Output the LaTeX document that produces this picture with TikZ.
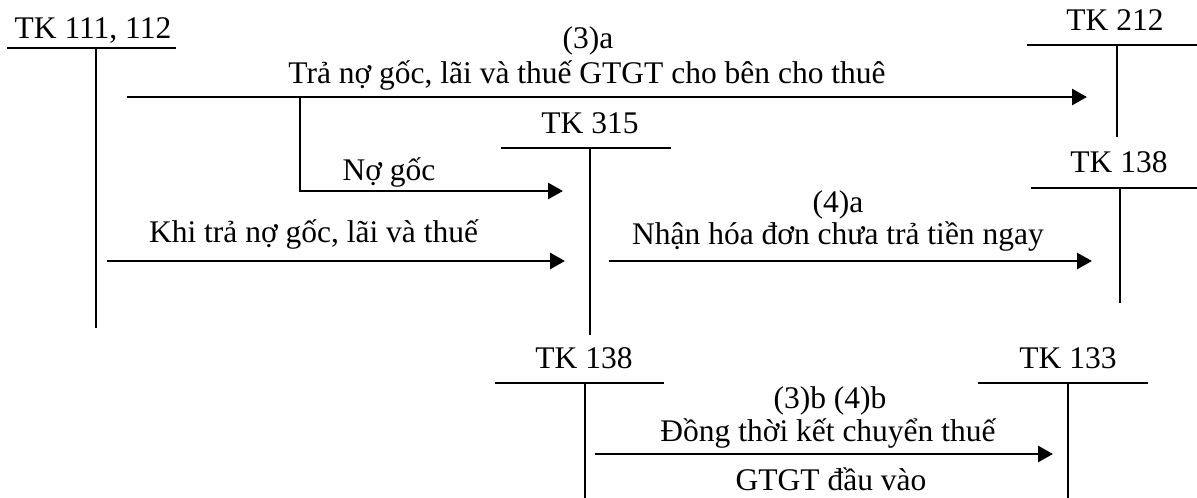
\documentclass[tikz,border=0pt]{standalone}
\usepackage{fontspec}
\setmainfont{Liberation Serif}
\usetikzlibrary{arrows.meta}
\begin{document}
\begin{tikzpicture}[x=1pt,y=-1pt,
  tline/.style={line width=1.7pt},
  flowline/.style={line width=2.8pt},
  flow/.style={flowline, -{Triangle[length=15pt,width=16pt]}},
  txt/.style={font=\fontsize{31.5}{36}\selectfont, inner sep=0pt, anchor=base}]
\useasboundingbox (0,0) rectangle (1197,498);

% ---------- accounts ----------
% TK 111, 112
\node[txt] (t111) at (93,38) {TK 111, 112};
\coordinate (u111w) at (7,48);   \coordinate (u111e) at (176,48);
\coordinate (v111t) at (96,48);  \coordinate (v111b) at (96,328);
\draw[tline] (u111w) -- (u111e);
\draw[tline] (v111t) -- (v111b);

% TK 212
\node[txt] (t212) at (1115,30) {TK 212};
\coordinate (u212w) at (1027,45); \coordinate (u212e) at (1197,45);
\coordinate (v212t) at (1117,45); \coordinate (v212b) at (1117,137);
\draw[tline] (u212w) -- (u212e);
\draw[tline] (v212t) -- (v212b);

% TK 315
\node[txt] (t315) at (590,133) {TK 315};
\coordinate (u315w) at (501,148); \coordinate (u315e) at (671,148);
\coordinate (v315t) at (590,148); \coordinate (v315b) at (590,335);
\draw[tline] (u315w) -- (u315e);
\draw[tline] (v315t) -- (v315b);

% TK 138 (right)
\node[txt] (t138r) at (1119,172) {TK 138};
\coordinate (u138rw) at (1031,188); \coordinate (u138re) at (1197,188);
\coordinate (v138rt) at (1120,188); \coordinate (v138rb) at (1120,303);
\draw[tline] (u138rw) -- (u138re);
\draw[tline] (v138rt) -- (v138rb);

% TK 138 (bottom)
\node[txt] (t138b) at (584,368) {TK 138};
\coordinate (u138bw) at (495,383); \coordinate (u138be) at (664,383);
\coordinate (v138bt) at (585,383); \coordinate (v138bb) at (585,498);
\draw[tline] (u138bw) -- (u138be);
\draw[tline] (v138bt) -- (v138bb);

% TK 133
\node[txt] (t133) at (1068,368) {TK 133};
\coordinate (u133w) at (978,383); \coordinate (u133e) at (1148,383);
\coordinate (v133t) at (1068,383); \coordinate (v133b) at (1068,498);
\draw[tline] (u133w) -- (u133e);
\draw[tline] (v133t) -- (v133b);

% ---------- flows ----------
% (3)a
\coordinate (a1s) at (127,97);
\coordinate (a1e) at (1087,97);
\coordinate (br) at (300,97);
\draw[flow] (a1s) -- (a1e);
\node[txt] (l3a) at (588,48) {(3)a};
\node[txt] (l3at) at (587,83) {Trả nợ gốc, lãi và thuế GTGT cho bên cho thuê};

% No goc
\coordinate (a2e) at (563,191);
\draw[flow] (br) |- (a2e);
\node[txt] (lng) at (389,180) {Nợ gốc};

% Khi tra
\coordinate (a3s) at (107,261);
\coordinate (a3e) at (565,261);
\draw[flow] (a3s) -- (a3e);
\node[txt] (lkhi) at (313.5,242) {Khi trả nợ gốc, lãi và thuế};

% (4)a
\coordinate (a4s) at (609,261);
\coordinate (a4e) at (1092,261);
\draw[flow] (a4s) -- (a4e);
\node[txt] (l4a) at (838,212) {(4)a};
\node[txt] (l4at) at (838,244) {Nhận hóa đơn chưa trả tiền ngay};

% (3)b (4)b
\coordinate (a5s) at (595,454);
\coordinate (a5e) at (1053,454);
\draw[flow] (a5s) -- (a5e);
\node[txt] (l3b) at (830,408) {(3)b (4)b};
\node[txt] (l3bt) at (828,441) {Đồng thời kết chuyển thuế};
\node[txt] (l3bu) at (831,490) {GTGT đầu vào};
\end{tikzpicture}
\end{document}
